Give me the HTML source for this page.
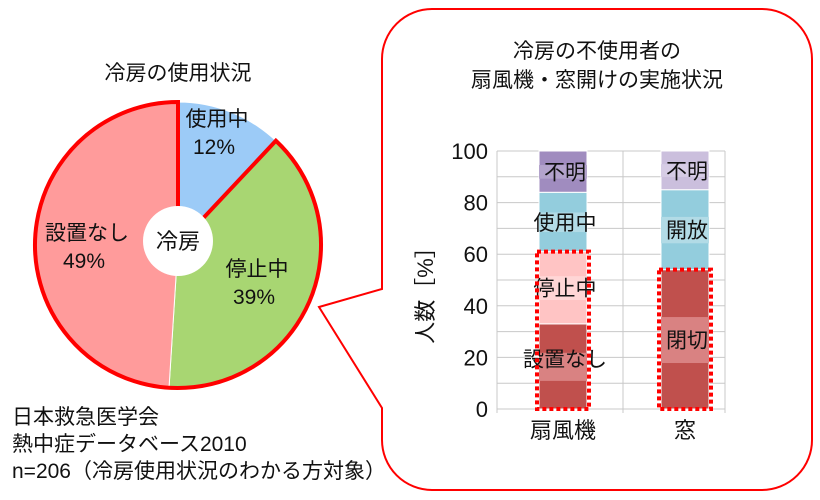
<!DOCTYPE html>
<html><head><meta charset="utf-8"><style>
body{margin:0;background:#fff;}
svg{display:block;font-family:"Liberation Sans","Noto Sans CJK JP",sans-serif;}
</style></head><body>
<svg width="820" height="500" viewBox="0 0 820 500">
<text x="178" y="80" font-size="21" text-anchor="middle" fill="#111">冷房の使用状況</text>
<g id="pie"></g>
<text x="12" y="424" font-size="21" fill="#111">日本救急医学会</text>
<text x="12" y="451" font-size="21" fill="#111">熱中症データベース2010</text>
<text x="12" y="478" font-size="21" fill="#111">n=206（冷房使用状況のわかる方対象）</text>
<path d="M432,9 H762 A50,50 0 0 1 812,59 V440 A50,50 0 0 1 762,490 H432 A50,50 0 0 1 382,440 V408 L319,307 L382,289 V59 A50,50 0 0 1 432,9 Z" fill="none" stroke="#f00" stroke-width="2"/>
<text x="597" y="58" font-size="21" text-anchor="middle" fill="#111">冷房の不使用者の</text>
<text x="597" y="87" font-size="21" text-anchor="middle" fill="#111">扇風機・窓開けの実施状況</text>
<text transform="translate(433,290) rotate(-90)" font-size="22" text-anchor="middle" fill="#111">人数［%］</text>
<g id="bars"></g>
</svg>
<script>
const pieLabels=["使用中","停止中","設置なし"];
const pieValues=[12,39,49];
const barCategories=["扇風機","窓"];
const fanLabels=["設置なし","停止中","使用中","不明"];
const fanValues=[33,28,23,16];
const windowLabels=["閉切","開放","不明"];
const windowValues=[54,31,15];
const yTicks=[0,20,40,60,80,100];

const NS="http://www.w3.org/2000/svg";
function mk(tag,attrs,parent){const e=document.createElementNS(NS,tag);for(const k in attrs)e.setAttribute(k,attrs[k]);parent.appendChild(e);return e;}

const pie=document.getElementById('pie');
const cx=178,cy=245,R=143;
const pieColors=["#9ccbf7","#a8d672","#ff9b9b"];
const labelPos=[[217,126],[257,276],[87,240]];
const total=pieValues.reduce((a,b)=>a+b,0);
function pt(frac,r){const a=frac*2*Math.PI-Math.PI/2;return [cx+r*Math.cos(a),cy+r*Math.sin(a)];}
let acc=0;
pieValues.forEach((v,i)=>{
  const f0=acc/total,f1=(acc+v)/total;acc+=v;
  const p0=pt(f0,R),p1=pt(f1,R);
  const large=(f1-f0)>0.5?1:0;
  const p=mk('path',{d:`M${cx},${cy} L${p0[0]},${p0[1]} A${R},${R} 0 ${large} 1 ${p1[0]},${p1[1]} Z`,fill:pieColors[i],stroke:'#fff','stroke-width':1},pie);
  
  
});
{const f0=pieValues[0]/total;const p0=pt(f0,R),p1=pt(1,R);
 const o=mk('path',{d:`M${cx},${cy} L${p0[0]},${p0[1]} A${R},${R} 0 1 1 ${p1[0]},${p1[1]} Z`,fill:'none',stroke:'#f00','stroke-width':4,'stroke-linejoin':'miter'},pie);
 
 }
pieValues.forEach((v,i)=>{
  const lp=labelPos[i];
  const t1=mk('text',{x:lp[0],y:lp[1],'font-size':21,'text-anchor':'middle',fill:'#111'},pie);t1.textContent=pieLabels[i];
  
  
  const t2=mk('text',{x:lp[0]-3,y:lp[1]+28,'font-size':21,'text-anchor':'middle',fill:'#111'},pie);t2.textContent=v+'%';
  
  
});
const hole=mk('circle',{cx:cx,cy:cy-4,r:35,fill:'#fff'},pie);


const ht=mk('text',{x:cx,y:cy+4,'font-size':22,'text-anchor':'middle',fill:'#111'},pie);ht.textContent='冷房';



const bars=document.getElementById('bars');
const y0=409,ppu=2.58,xL=497,xR=725;
const Y=v=>y0-v*ppu;
const catX=[563,685],bw=48;
for(let v=0;v<=100;v+=10){const g=mk('line',{x1:xL,x2:xR,y1:Y(v),y2:Y(v),stroke:'#c8c8c8','stroke-width':1},bars);
 
 }
[xL,623,xR].forEach(x=>{const l=mk('line',{x1:x,x2:x,y1:Y(100),y2:y0+4,stroke:'#c8c8c8'},bars);
 
 });
yTicks.forEach(v=>{const t=mk('text',{x:488,y:Y(v)+8,'font-size':22,'text-anchor':'end',fill:'#111'},bars);t.textContent=v;
 
 });
barCategories.forEach((c,i)=>{const t=mk('text',{x:catX[i],y:y0+29,'font-size':22,'text-anchor':'middle',fill:'#111'},bars);t.textContent=c;
 
 });
function stack(ci,vals,labels,colors,bands,redCount,labOff){
  let a=0;const x=catX[ci]-bw/2;
  vals.forEach((v,i)=>{
    const r=mk('rect',{x:x,y:Y(a+v),width:bw,height:v*ppu,fill:colors[i],stroke:'#fff','stroke-width':1},bars);
    
    
    const b=mk('rect',{x:x,y:Y(a+v*0.66),width:bw,height:v*0.33*ppu,fill:bands[i]},bars);
    
    
    const t=mk('text',{x:catX[ci]+2,y:Y(a+v/2)+8+(labOff[i]||0),'font-size':21,'text-anchor':'middle',fill:'#111'},bars);t.textContent=labels[i];
    
    
    a+=v;
  });
  let s=0;for(let i=0;i<redCount;i++)s+=vals[i];
  const o=mk('rect',{x:x-2,y:Y(s),width:bw+4,height:s*ppu,fill:'none',stroke:'#f00','stroke-width':4,'stroke-dasharray':'4,3'},bars);
  
  
}
stack(0,fanValues,fanLabels,["#c0504d","#ffc4c4","#93cddd","#a08cbf"],["#d98282","#ffd6d6","#b2dbe6","#b3a3cc"],2,[-8,0,0,0]);
stack(1,windowValues,windowLabels,["#c0504d","#93cddd","#cbbfdd"],["#d98282","#b2dbe6","#d6cce5"],1,[0,0,0]);
</script>
</body></html>
